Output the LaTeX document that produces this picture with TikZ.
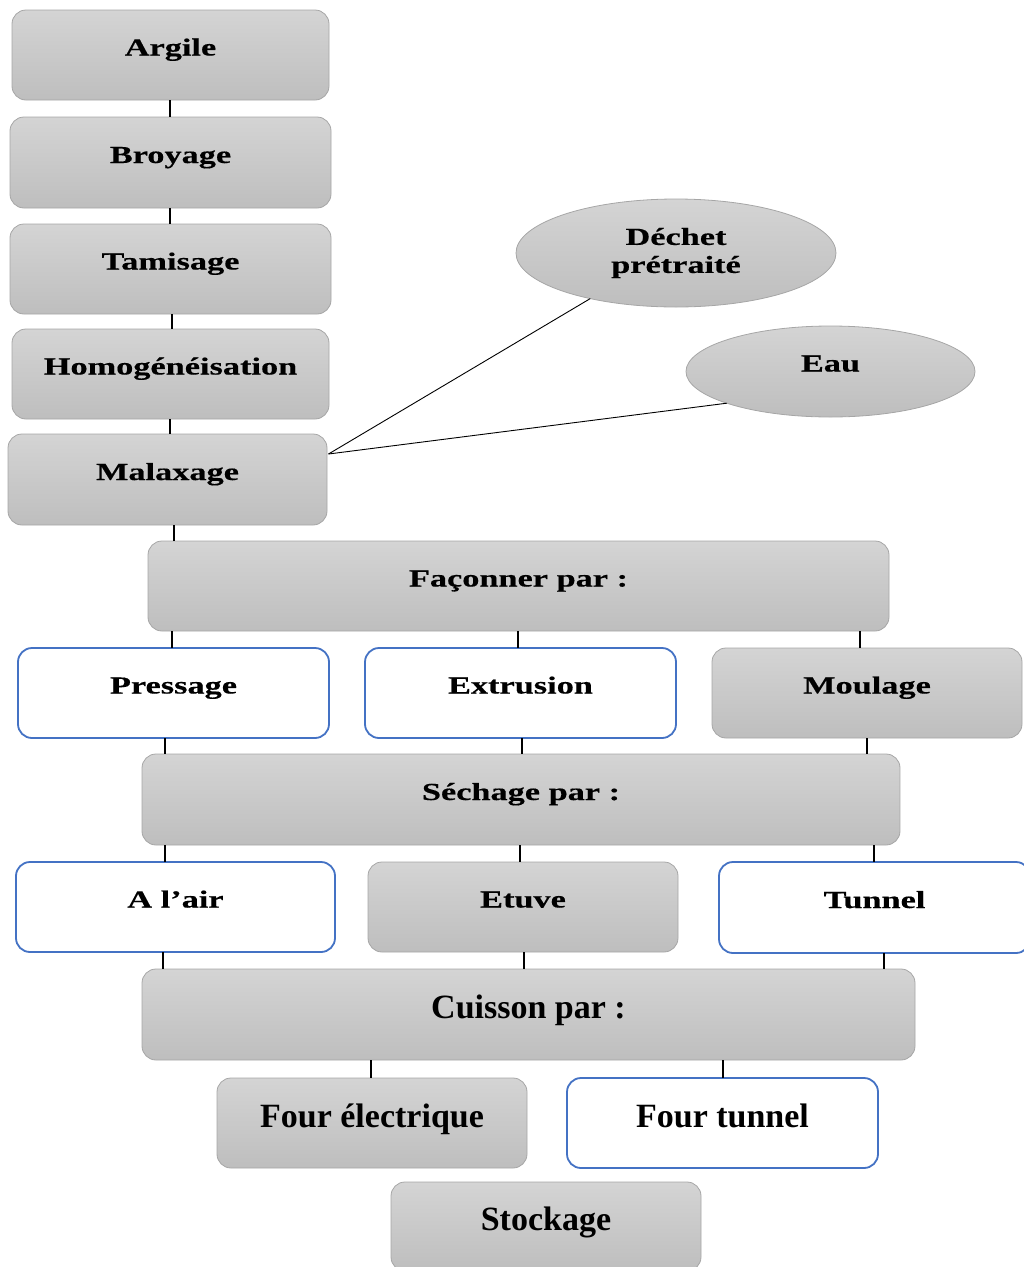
\documentclass[tikz,border=0pt]{standalone}
\usepackage{fontspec}
\usetikzlibrary{shapes.geometric}
\newfontfamily\wf{Liberation Serif}[FakeStretch=1.4, FakeBold=0.4]
\newfontfamily\nf{Liberation Serif}
\definecolor{gtop}{HTML}{D4D4D4}
\definecolor{gbot}{HTML}{BEBEBE}
\definecolor{bordergray}{HTML}{A6A6A6}
\definecolor{blueb}{HTML}{4472C4}
\tikzset{
  boxbase/.style={shape=rectangle, rounded corners=14pt, inner sep=0pt, outer sep=0pt,
    text height=17pt, text depth=16pt, font=\wf\bfseries\fontsize{24.5}{29}\selectfont},
  gbox/.style={boxbase, draw=bordergray, line width=0.8pt, top color=gtop, bottom color=gbot},
  wbox/.style={boxbase, draw=blueb, line width=1.8pt, fill=white},
  big/.style={text height=24pt, text depth=16pt, font=\nf\bfseries\fontsize{34}{40}\selectfont},
  gell/.style={shape=ellipse, draw=bordergray, line width=0.8pt, top color=gtop, bottom color=gbot,
    inner sep=0pt, outer sep=0pt, font=\wf\bfseries\fontsize{24.5}{28}\selectfont},
  tick/.style={line width=2.5pt, black},
  thinline/.style={line width=0.9pt, black}
}
\begin{document}
\begin{tikzpicture}[x=1pt, y=-1pt]
\useasboundingbox (0,0) rectangle (1024,1267);
\clip (0,0) rectangle (1024,1267);
% left column
\node[gbox, minimum width=317pt, minimum height=90pt] (argile) at (170.5,55) {Argile};
\node[gbox, minimum width=321pt, minimum height=91pt] (broyage) at (170.5,162.5) {Broyage};
\node[gbox, minimum width=321pt, minimum height=90pt] (tamis) at (170.5,269) {Tamisage};
\node[gbox, minimum width=317pt, minimum height=90pt] (homog) at (170.5,374) {Homogénéisation};
\node[gbox, minimum width=319pt, minimum height=91pt] (malax) at (167.5,479.5) {Malaxage};
% ellipses
\node[gell, minimum width=320pt, minimum height=108pt, align=center] (dechet) at (676,253) {Déchet\\prétraité};
\node[gell, minimum width=289pt, minimum height=91pt, text height=17pt, text depth=17pt] (eau) at (830.5,371.5) {Eau};
% shaping
\node[gbox, minimum width=741pt, minimum height=90pt] (facon) at (518.5,586) {Façonner par :};
\node[wbox, minimum width=311pt, minimum height=90pt] (press) at (173.5,693) {Pressage};
\node[wbox, minimum width=311pt, minimum height=90pt] (extr) at (520.5,693) {Extrusion};
\node[gbox, minimum width=310pt, minimum height=90pt] (moul) at (867,693) {Moulage};
% drying
\node[gbox, minimum width=758pt, minimum height=91pt] (sech) at (521,799.5) {Séchage par :};
\node[wbox, minimum width=319pt, minimum height=90pt] (air) at (175.5,907) {A l’air};
\node[gbox, minimum width=310pt, minimum height=90pt] (etuve) at (523,907) {Etuve};
\node[wbox, minimum width=311pt, minimum height=91pt] (tunnel) at (874.5,907.5) {Tunnel};
% firing
\node[gbox, big, minimum width=773pt, minimum height=91pt] (cuis) at (528.5,1014.5) {Cuisson par :};
\node[gbox, big, minimum width=310pt, minimum height=90pt] (fourel) at (372,1123) {Four électrique};
\node[wbox, big, minimum width=311pt, minimum height=90pt] (fourtun) at (722.5,1123) {Four tunnel};
\node[gbox, big, minimum width=310pt, minimum height=89pt] (stock) at (546,1226.5) {Stockage};
% ticks
\draw[tick] (argile.south -| 170,0) -- (broyage.north -| 170,0);
\draw[tick] (broyage.south -| 170,0) -- (tamis.north -| 170,0);
\draw[tick] (tamis.south -| 172,0) -- (homog.north -| 172,0);
\draw[tick] (homog.south -| 170,0) -- (malax.north -| 170,0);
\draw[tick] (malax.south -| 174,0) -- (facon.north -| 174,0);
\draw[tick] (facon.south -| 172,0) -- (press.north -| 172,0);
\draw[tick] (facon.south -| 518,0) -- (extr.north -| 518,0);
\draw[tick] (facon.south -| 860,0) -- (moul.north -| 860,0);
\draw[tick] (press.south -| 165,0) -- (sech.north -| 165,0);
\draw[tick] (extr.south -| 522,0) -- (sech.north -| 522,0);
\draw[tick] (moul.south -| 867,0) -- (sech.north -| 867,0);
\draw[tick] (sech.south -| 165,0) -- (air.north -| 165,0);
\draw[tick] (sech.south -| 520,0) -- (etuve.north -| 520,0);
\draw[tick] (sech.south -| 874,0) -- (tunnel.north -| 874,0);
\draw[tick] (air.south -| 163,0) -- (cuis.north -| 163,0);
\draw[tick] (etuve.south -| 524,0) -- (cuis.north -| 524,0);
\draw[tick] (tunnel.south -| 884,0) -- (cuis.north -| 884,0);
\draw[tick] (cuis.south -| 371,0) -- (fourel.north -| 371,0);
\draw[tick] (cuis.south -| 723,0) -- (fourtun.north -| 723,0);
% inputs to malaxage
\coordinate (mx) at ([yshift=25.5pt, xshift=1.5pt]malax.east);
\draw[thinline] (mx) -- (dechet.208.7);
\draw[thinline] (mx) -- (eau.197);
\end{tikzpicture}
\end{document}
